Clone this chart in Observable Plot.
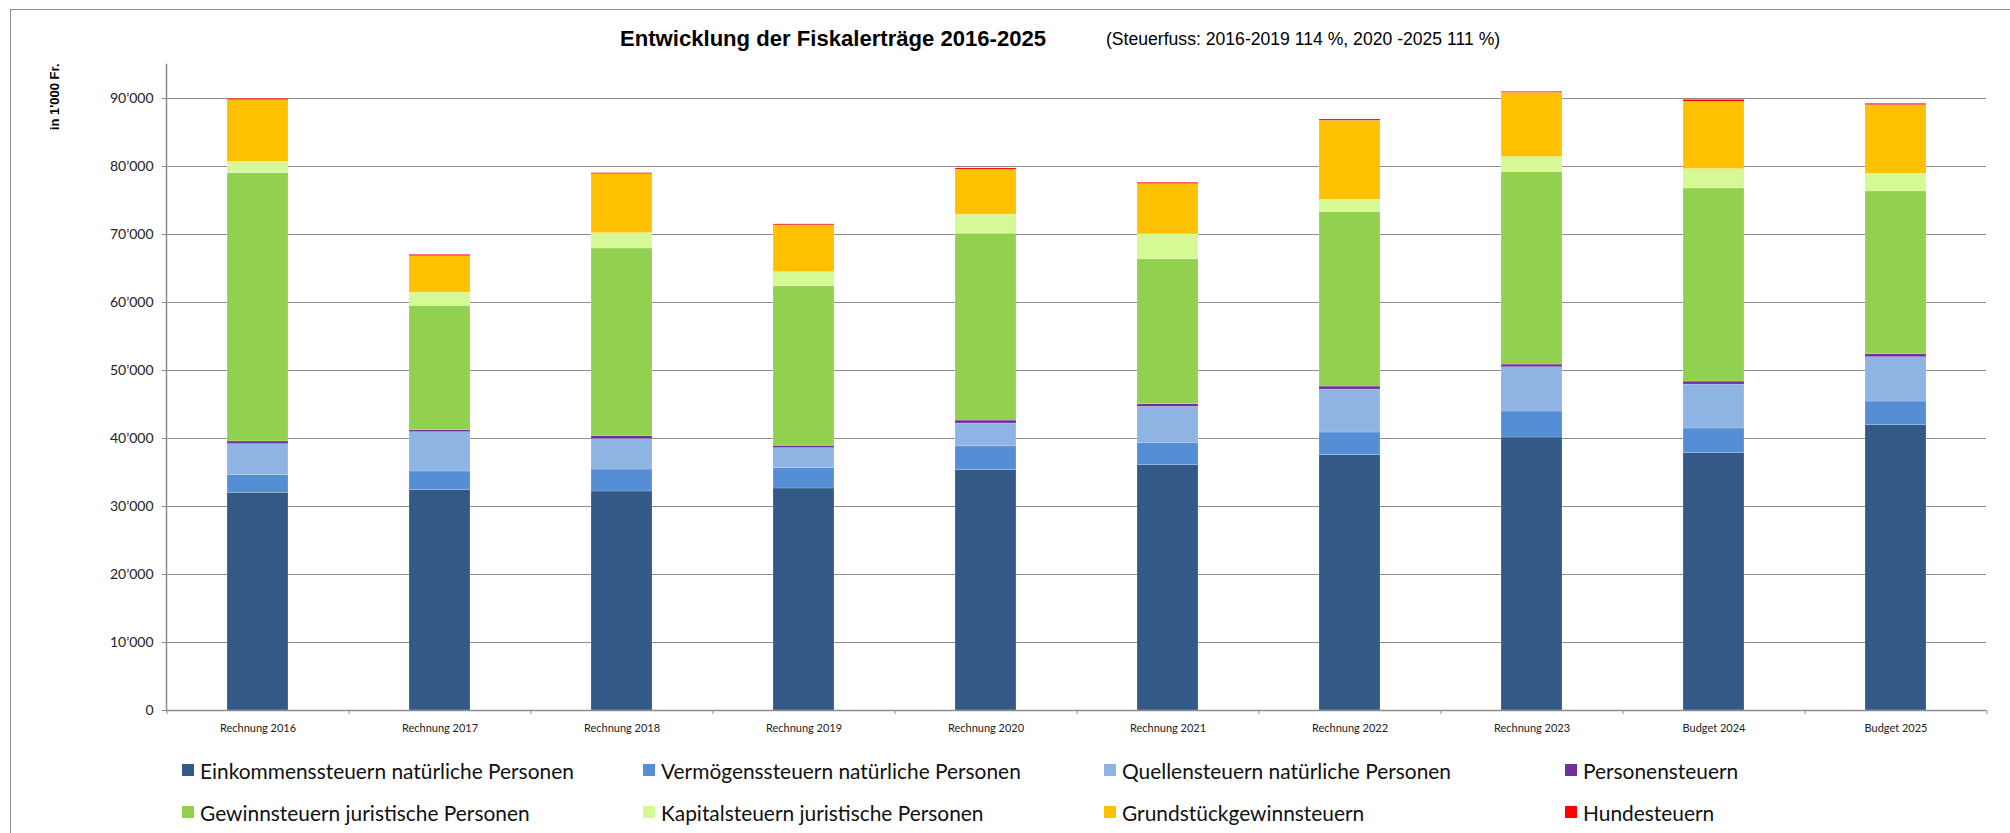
<!DOCTYPE html>
<html>
<head>
<meta charset="utf-8">
<script src="https://cdn.jsdelivr.net/npm/d3@7"></script>
<script src="https://cdn.jsdelivr.net/npm/@observablehq/plot@0.6"></script>
<style>
  html, body { margin: 0; padding: 0; background: #fff; }
  body { width: 2010px; height: 833px; position: relative; overflow: hidden; font-family: Lato, "Open Sans", sans-serif; }
  #frame { position: absolute; left: 10px; top: 9px; width: 2100px; height: 900px; border: 1.5px solid #8c8c8c; box-sizing: border-box; pointer-events: none; }
  #title { position: absolute; left: 620px; top: 26px; font-family: "Liberation Sans", Arial, sans-serif; font-weight: bold; font-size: 22.1px; color: #000; white-space: nowrap; }
  #subtitle { position: absolute; left: 1106px; top: 29px; font-family: "Liberation Sans", Arial, sans-serif; font-size: 17.6px; color: #000; white-space: nowrap; }
  #chart { position: absolute; left: 0; top: 60px; }
  .leg { position: absolute; display: flex; align-items: center; white-space: nowrap; font-family: Lato, sans-serif; font-size: 20.9px; color: #111; }
  .leg .sw { width: 12px; height: 12px; margin-right: 6px; flex: none; }
</style>
</head>
<body>
<div id="frame"></div>
<div id="title">Entwicklung der Fiskalerträge 2016-2025</div>
<div id="subtitle">(Steuerfuss: 2016-2019 114 %, 2020 -2025 111 %)</div>
<div id="chart"></div>
<div id="legend"></div>
<script>
// ---- data (in 1'000 Fr.) ----
const categories = ["Rechnung 2016","Rechnung 2017","Rechnung 2018","Rechnung 2019","Rechnung 2020","Rechnung 2021","Rechnung 2022","Rechnung 2023","Budget 2024","Budget 2025"];
const seriesNames = ["Einkommenssteuern natürliche Personen","Vermögenssteuern natürliche Personen","Quellensteuern natürliche Personen","Personensteuern","Gewinnsteuern juristische Personen","Kapitalsteuern juristische Personen","Grundstückgewinnsteuern","Hundesteuern"];
const seriesColors = ["#335a86","#558ed5","#8eb4e3","#7030a0","#92d050","#d5f995","#ffc000","#ff0000"];

const einkommen   = [32010, 32400, 32210, 32650, 35340, 36080, 37550, 40150, 37850, 41960];
const vermoegen   = [ 2600,  2750,  3230,  2990,  3510,  3280,  3330,  3820,  3620,  3480];
const quellen     = [ 4560,  5780,  4460,  2940,  3350,  5290,  6320,  6510,  6460,  6510];
const personen    = [  390,   300,   440,   340,   440,   390,   440,   390,   440,   440];
const gewinn      = [39460, 18280, 27600, 23460, 27480, 21310, 25660, 28310, 28410, 23950];
const kapital     = [ 1670,  1960,  2260,  2100,  2790,  3670,  1810,  2200,  2840,  2590];
const grundstueck = [ 9060,  5340,  8670,  6860,  6610,  7400, 11610,  9450,  9890, 10090];
const hunde       = [  200,   200,   150,   150,   200,   190,   190,   150,   290,   200];

const yTicks = [0, 10000, 20000, 30000, 40000, 50000, 60000, 70000, 80000, 90000];

// ---- table ----
const seriesValues = [einkommen, vermoegen, quellen, personen, gewinn, kapital, grundstueck, hunde];
const data = [];
seriesNames.forEach((s, si) => categories.forEach((c, ci) => data.push({cat: c, series: s, value: seriesValues[si][ci]})));

const fmt = d => d === 0 ? "0" : d3.format(",")(d).replace(/,/g, "’");

const W = 2010, H = 690, ML = 166, MR = 24, MT = 4, MB = 40;
const step = (W - ML - MR) / categories.length;
const gray = "#8c8c8c";

const chart = Plot.plot({
  width: W, height: H,
  marginLeft: ML, marginRight: MR, marginTop: MT, marginBottom: MB,
  style: {background: "transparent", fontFamily: "Lato, sans-serif"},
  x: {domain: categories, paddingInner: 0.667, paddingOuter: 0.3335, axis: null},
  y: {domain: [0, 95000], axis: null},
  color: {domain: seriesNames, range: seriesColors},
  marks: [
    Plot.gridY(yTicks, {stroke: gray, strokeOpacity: 1, strokeWidth: 1.2}),
    Plot.barY(data, Plot.stackY({order: seriesNames}, {x: "cat", y: "value", fill: "series", stroke: "#fff", strokeOpacity: 0.3, strokeWidth: 0.6})),
    Plot.ruleY([0], {stroke: gray, strokeWidth: 1.5}),
    Plot.frame({anchor: "left", stroke: gray, strokeWidth: 1.5}),
    Plot.axisY({ticks: yTicks, tickSize: 4, tickPadding: 9, tickFormat: fmt, fontSize: 14, stroke: gray, fill: "#222", label: null}),
    Plot.axisX({tickSize: 0, tickPadding: 14, fontSize: 11, fill: "#222", label: null}),
    Plot.axisX({tickSize: 4, tickFormat: () => "", stroke: gray, dx: -step / 2, label: null}),
    Plot.axisX({ticks: [categories[categories.length - 1]], tickSize: 4, tickFormat: () => "", stroke: gray, dx: step / 2, label: null}),
    Plot.text(["in 1'000 Fr."], {frameAnchor: "top-left", rotate: -90, textAnchor: "end", dx: -117, dy: -1, fontWeight: "bold", fontSize: 13, fontFamily: "Liberation Sans, Arial, sans-serif", fill: "#000"})
  ]
});
document.getElementById("chart").appendChild(chart);

// ---- legend ----
const legCols = [182, 643, 1104, 1565];
const legRows = [770, 812];
const legend = document.getElementById("legend");
seriesNames.forEach((s, i) => {
  const el = document.createElement("div");
  el.className = "leg";
  el.style.left = legCols[i % 4] + "px";
  el.style.top = (legRows[Math.floor(i / 4)] - 13) + "px";
  el.style.height = "26px";
  el.innerHTML = `<span class="sw" style="background:${seriesColors[i]}"></span><span>${s}</span>`;
  legend.appendChild(el);
});
</script>
</body>
</html>
